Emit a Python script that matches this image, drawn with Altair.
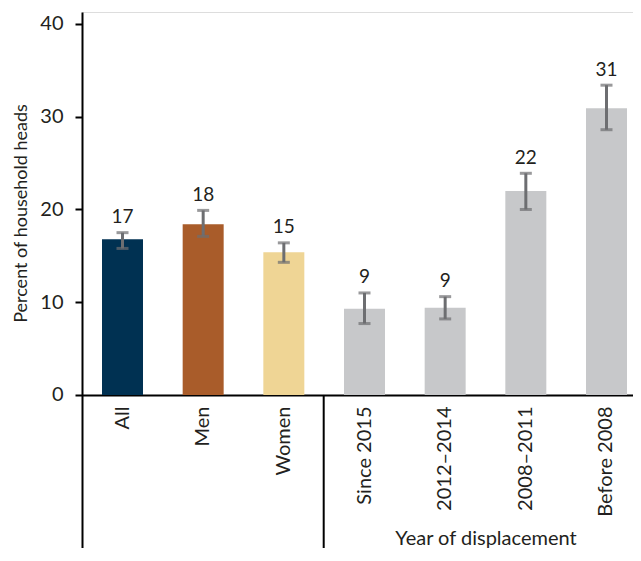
import altair as alt
import pandas as pd

categories = ["All", "Men", "Women", "Since 2015", "2012–2014", "2008–2011", "Before 2008"]
values = [16.8, 18.4, 15.4, 9.3, 9.4, 22.0, 30.9]
err_low = [15.8, 17.1, 14.3, 7.7, 8.2, 20.0, 28.6]
err_high = [17.5, 19.9, 16.4, 11.0, 10.6, 23.9, 33.4]
value_labels = ["17", "18", "15", "9", "9", "22", "31"]
bar_colors = ["#003152", "#A95C2A", "#EFD595", "#C7C8CA", "#C7C8CA", "#C7C8CA", "#C7C8CA"]
y_ticks = [0, 10, 20, 30, 40]

df = pd.DataFrame({
    "cat": categories,
    "value": values,
    "lo": err_low,
    "hi": err_high,
    "label": value_labels,
})

FONT = "Lato"
TEXT = "#231F20"
ERR = "#6D6E71"
Y_MIN, Y_MAX = -16.5, 41.29

xscale = alt.Scale(domain=categories, range=[0, 565], paddingInner=0.4918, paddingOuter=0.248)
yscale = alt.Scale(domain=[Y_MIN, Y_MAX], nice=False, zero=False)

x_enc = alt.X("cat:N", scale=xscale, sort=categories,
              axis=alt.Axis(orient="bottom", offset=-153, labelAngle=270, ticks=False, tickSize=0,
                            labelPadding=11, domainColor="black", domainWidth=2,
                            labelFont=FONT, labelFontSize=20, labelColor=TEXT,
                            title="Year of displacement", titleFont=FONT, titleFontSize=20,
                            titleFontWeight="normal", titleColor=TEXT,
                            titleX=403.5, titleY=143, titleBaseline="middle", titleAlign="center"))

y_enc = alt.Y("value:Q", scale=yscale,
              axis=alt.Axis(values=y_ticks, tickSize=7, tickWidth=2, tickColor="black",
                            domainColor="black", domainWidth=2, grid=False,
                            labelPadding=12, labelFont=FONT, labelFontSize=20, labelColor=TEXT,
                            title="Percent of household heads", titleFont=FONT, titleFontSize=18,
                            titleFontWeight="normal", titleColor=TEXT,
                            titleX=-61, titleY=201, titleAngle=270,
                            titleAlign="center", titleBaseline="middle"))

base = alt.Chart(df)

bars = base.mark_bar().encode(
    x=x_enc,
    y=y_enc,
    y2=alt.Y2(datum=0),
    color=alt.Color("cat:N", scale=alt.Scale(domain=categories, range=bar_colors), legend=None),
)

err_rule = base.mark_rule(color=ERR, strokeWidth=3).encode(
    x=alt.X("cat:N", scale=xscale, sort=categories),
    y=alt.Y("lo:Q", scale=yscale),
    y2="hi:Q",
)
cap_lo = base.mark_tick(color=ERR, size=12, thickness=3).encode(
    x=alt.X("cat:N", scale=xscale, sort=categories),
    y=alt.Y("lo:Q", scale=yscale),
)
cap_hi = base.mark_tick(color=ERR, size=12, thickness=3).encode(
    x=alt.X("cat:N", scale=xscale, sort=categories),
    y=alt.Y("hi:Q", scale=yscale),
)

text = base.mark_text(font=FONT, fontSize=19, color=TEXT, baseline="alphabetic", dy=-9.5).encode(
    x=alt.X("cat:N", scale=xscale, sort=categories),
    y=alt.Y("hi:Q", scale=yscale),
    text="label:N",
)

sep_df = pd.DataFrame({"cat": ["Since 2015"], "top": [0], "bottom": [Y_MIN]})
separator = alt.Chart(sep_df).mark_rule(color="black", strokeWidth=2, xOffset=-40.8).encode(
    x=alt.X("cat:N", scale=xscale, sort=categories),
    y=alt.Y("top:Q", scale=yscale),
    y2="bottom:Q",
)

chart = alt.layer(bars, err_rule, cap_lo, cap_hi, text, separator).properties(
    width=551,
    height=536,
    padding={"left": 74, "top": 4, "right": 0, "bottom": 0},
    autosize=alt.AutoSizeParams(type="none"),
).configure_view(stroke=None).configure(background="white")

chart.save("out.html", embed_options={"renderer": "svg", "actions": False})
